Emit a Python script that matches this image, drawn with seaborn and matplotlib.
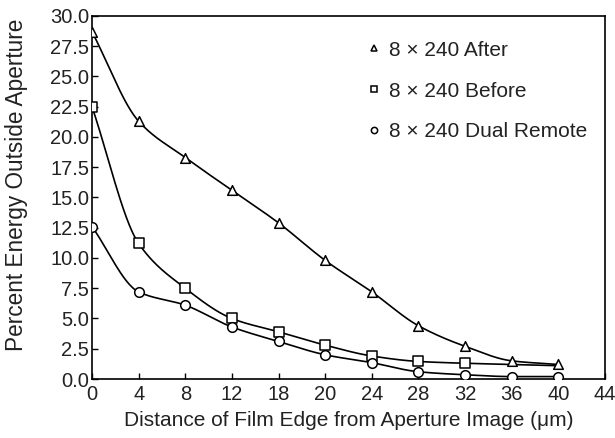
import numpy as np
import pandas as pd
import matplotlib
matplotlib.use("Agg")
import matplotlib.pyplot as plt
import seaborn as sns
from matplotlib.lines import Line2D

# positions on the axis (ticks evenly spaced); the 5th tick is printed as "18" in the original
x_pos = [0, 4, 8, 12, 16, 20, 24, 28, 32, 36, 40]
tick_pos = [0, 4, 8, 12, 16, 20, 24, 28, 32, 36, 40, 44]
tick_labels = ["0", "4", "8", "12", "18", "20", "24", "28", "32", "36", "40", "44"]

after = [28.7, 21.3, 18.3, 15.6, 12.9, 9.8, 7.2, 4.4, 2.7, 1.5, 1.2]
before = [22.5, 11.2, 7.5, 5.0, 3.9, 2.8, 1.9, 1.45, 1.3, 1.2, 1.1]
dual = [12.6, 7.2, 6.1, 4.3, 3.1, 2.0, 1.35, 0.6, 0.35, 0.2, 0.2]

series_names = ["8 \u00d7 240 After", "8 \u00d7 240 Before", "8 \u00d7 240 Dual Remote"]
markers = ["^", "s", "o"]
before_marked = 9  # squares drawn for the first points only (rest hidden under triangles)

sns.set_theme(style="white")
plt.rcParams["font.family"] = ["Liberation Sans", "DejaVu Sans"]

fig = plt.figure(figsize=(6.15, 4.38), dpi=100)
ax = fig.add_axes([0.1496, 0.1347, 0.8341, 0.8288])


def pchip(x, y, n=30):
    x = np.asarray(x, float)
    y = np.asarray(y, float)
    h = np.diff(x)
    d = np.diff(y) / h
    m = np.zeros_like(y)
    for k in range(1, len(x) - 1):
        if d[k - 1] * d[k] > 0:
            w1 = 2 * h[k] + h[k - 1]
            w2 = h[k] + 2 * h[k - 1]
            m[k] = (w1 + w2) / (w1 / d[k - 1] + w2 / d[k])
    m[0] = d[0]
    m[-1] = d[-1]
    xs, ys = [], []
    for k in range(len(x) - 1):
        t = np.linspace(0, 1, n, endpoint=False)
        h00 = 2 * t**3 - 3 * t**2 + 1
        h10 = t**3 - 2 * t**2 + t
        h01 = -2 * t**3 + 3 * t**2
        h11 = t**3 - t**2
        xs.append(x[k] + t * h[k])
        ys.append(h00 * y[k] + h10 * h[k] * m[k] + h01 * y[k + 1] + h11 * h[k] * m[k + 1])
    xs.append([x[-1]])
    ys.append([y[-1]])
    return np.concatenate(xs), np.concatenate(ys)


data_sets = [after, before, dual]
for name, vals, mk in zip(series_names, data_sets, markers):
    sx, sy = pchip(x_pos, vals)
    ax.plot(sx, sy, color="black", lw=1.2, zorder=2)
    n = before_marked if vals is before else len(vals)
    df = pd.DataFrame({"x": x_pos[:n], "y": vals[:n]})
    sns.scatterplot(data=df, x="x", y="y", marker=mk, s=48, facecolor="white",
                    edgecolor="black", linewidth=1.1, ax=ax, zorder=3, legend=False)

ax.set_xlim(0, 44)
ax.set_ylim(0, 30)
ax.set_xticks(tick_pos)
ax.set_xticklabels(tick_labels)
ax.set_yticks(np.arange(0, 30.1, 2.5))
ax.set_yticklabels([f"{v:.1f}" for v in np.arange(0, 30.1, 2.5)])
ax.tick_params(axis="both", direction="in", length=4, width=1, colors="black",
               labelsize=14.5, bottom=True, left=True, pad=2)
ax.tick_params(axis="x", pad=4)
for lab in ax.get_xticklabels() + ax.get_yticklabels():
    lab.set_color("#222222")
for sp in ax.spines.values():
    sp.set_color("black")
    sp.set_linewidth(1.2)

ax.set_xlabel("Distance of Film Edge from Aperture Image (\u03bcm)", fontsize=15, color="#222222", labelpad=5)
ax.set_ylabel("Percent Energy Outside Aperture", fontsize=16.3, color="#222222")
ax.yaxis.set_label_coords(-0.124, 0.535)

handles = [Line2D([], [], ls="none", marker=mk, markersize=4.5, markerfacecolor="white",
                  markeredgecolor="black", markeredgewidth=1.1) for mk in markers]
ax.legend(handles, series_names, loc="upper left", bbox_to_anchor=(0.522, 0.955),
          frameon=False, fontsize=15, handlelength=0.6, handletextpad=0.4,
          labelspacing=1.05, borderaxespad=0, labelcolor="#222222")

fig.savefig("out.png", dpi=100)
